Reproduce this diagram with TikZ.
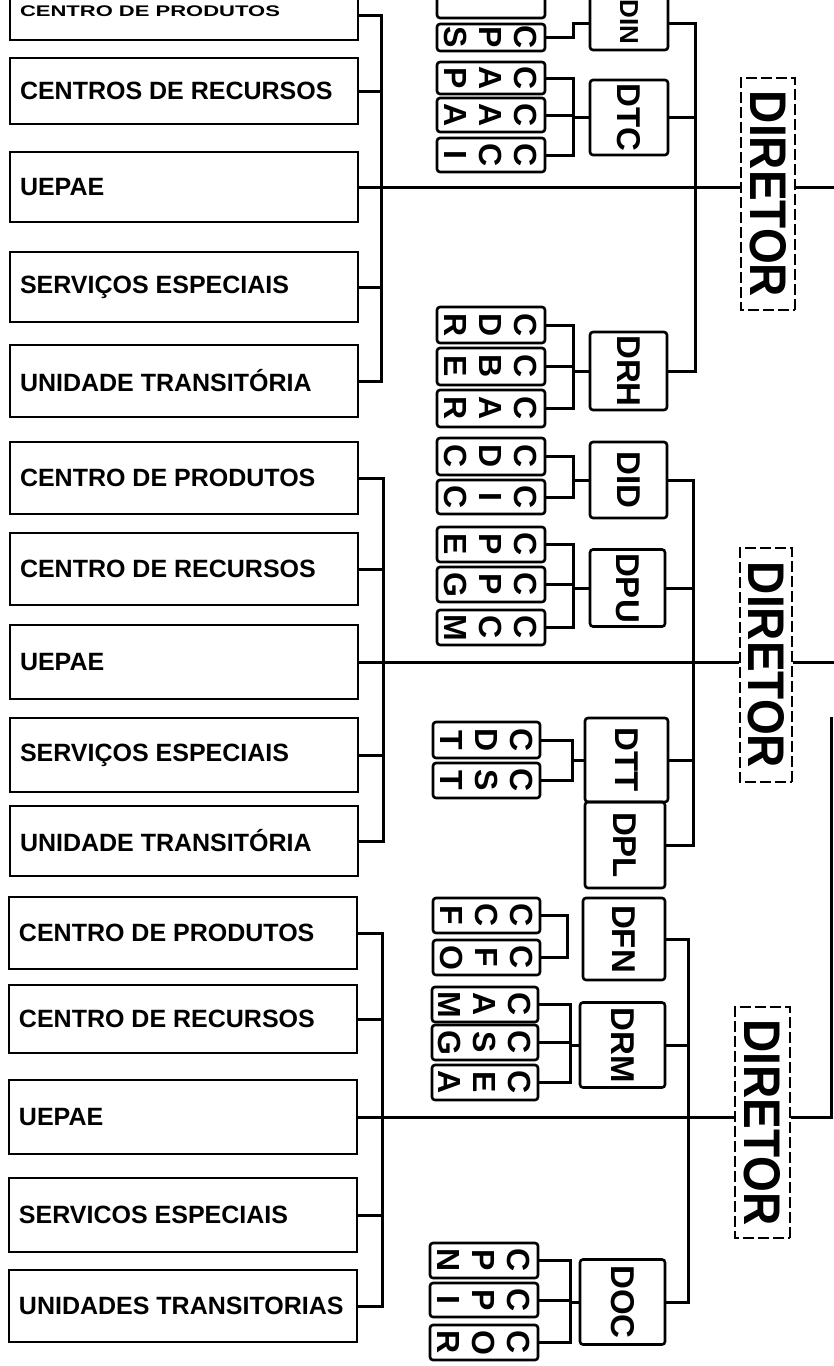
\documentclass[tikz,border=0pt]{standalone}
\usepackage{fontspec}
\setmainfont{Liberation Sans}
\newcommand\ltxt[1]{\makebox[328pt][l]{#1}}
\begin{document}
\begin{tikzpicture}[x=1pt,y=-1pt,
  lbox/.style={draw, line width=2.5pt, minimum width=348pt, inner xsep=10pt, inner ysep=0pt, font=\fontsize{25}{25}\bfseries\selectfont},
  sbox/.style={draw, line width=2.6pt, rounded corners=3pt, rotate=-90, align=center, inner sep=0pt, font=\fontsize{32}{35}\bfseries\selectfont},
  dbox/.style={draw, line width=2.6pt, rounded corners=3pt, rotate=-90, inner sep=0pt, font=\fontsize{33}{33}\bfseries\selectfont},
  dirbox/.style={draw, dash pattern=on 11pt off 4pt, line width=2.4pt, rotate=-90, minimum height=54pt, inner sep=0pt, font=\fontsize{46}{46}\bfseries\selectfont},
  con/.style={line width=3pt},
]
\useasboundingbox (0,0) rectangle (834,1366);
\fill[white] (0,0) rectangle (834,1366);
\clip (0,0) rectangle (834,1366);

% ---------------- left column ----------------
\node[lbox, minimum height=58pt] (l1a) at (184,11) {\ltxt{\fontsize{22}{22}\selectfont\scalebox{1}[0.7]{CENTRO DE PRODUTOS}}};
\node[lbox, minimum height=66pt] (l1b) at (184,91) {\ltxt{CENTROS DE RECURSOS}};
\node[lbox, minimum height=70pt] (l1c) at (184,187) {\ltxt{UEPAE}};
\node[lbox, minimum height=70pt] (l1d) at (184,287) {\ltxt{SERVIÇOS ESPECIAIS}};
\node[lbox, minimum height=72pt] (l1e) at (184,381) {\ltxt{UNIDADE TRANSITÓRIA}};

\node[lbox, minimum height=72pt] (l2a) at (184,478) {\ltxt{CENTRO DE PRODUTOS}};
\node[lbox, minimum height=72pt] (l2b) at (184,569) {\ltxt{CENTRO DE RECURSOS}};
\node[lbox, minimum height=74pt] (l2c) at (184,662) {\ltxt{UEPAE}};
\node[lbox, minimum height=74pt] (l2d) at (184,755) {\ltxt{SERVIÇOS ESPECIAIS}};
\node[lbox, minimum height=70pt] (l2e) at (184,841) {\ltxt{UNIDADE TRANSITÓRIA}};

\node[lbox, minimum height=72pt] (l3a) at (183,933) {\ltxt{CENTRO DE PRODUTOS}};
\node[lbox, minimum height=68pt] (l3b) at (183,1019) {\ltxt{CENTRO DE RECURSOS}};
\node[lbox, minimum height=74pt] (l3c) at (183,1117) {\ltxt{UEPAE}};
\node[lbox, minimum height=74pt] (l3d) at (183,1215) {\ltxt{SERVICOS ESPECIAIS}};
\node[lbox, minimum height=72pt] (l3e) at (183,1306) {\ltxt{UNIDADES TRANSITORIAS}};

% left buses
\coordinate (q1t) at (381,15);  \coordinate (q1b) at (381,381);
\coordinate (q2t) at (383,478); \coordinate (q2b) at (383,841);
\coordinate (q3t) at (382,933); \coordinate (q3b) at (382,1306);
\draw[con] (l1a.east |- q1t) -- (q1t) -- (q1b) -- (l1e.east);
\draw[con] (l1b.east) -- (l1b.east -| q1t);
\draw[con] (l1d.east) -- (l1d.east -| q1t);
\draw[con] (l2a.east) -- (q2t) -- (q2b) -- (l2e.east);
\draw[con] (l2b.east) -- (l2b.east -| q2t);
\draw[con] (l2d.east) -- (l2d.east -| q2t);
\draw[con] (l3a.east) -- (q3t) -- (q3b) -- (l3e.east);
\draw[con] (l3b.east) -- (l3b.east -| q3t);
\draw[con] (l3d.east) -- (l3d.east -| q3t);

% ---------------- DIRETOR boxes ----------------
\node[dirbox, minimum width=232pt] (d1) at (768,194) {\scalebox{1}[1.12]{DIRETOR}};
\node[dirbox, minimum width=234pt, minimum height=52pt] (d2) at (766,665) {\scalebox{1}[1.12]{DIRETOR}};
\node[dirbox, minimum width=231pt, minimum height=55pt] (d3) at (762.5,1122.5) {\scalebox{1}[1.12]{DIRETOR}};

\coordinate (e1) at (840,187);
\coordinate (e2) at (840,662);
\coordinate (rt3) at (831,717);
\draw[con] (l1c.east) -- (l1c.east -| d1.south);
\draw[con] (d1.north |- l1c.east) -- (e1);
\draw[con] (l2c.east) -- (l2c.east -| d2.south);
\draw[con] (d2.north |- l2c.east) -- (e2);
\draw[con] (l3c.east) -- (l3c.east -| d3.south);
\draw[con] (d3.north |- l3c.east) -| (rt3);

% ---------------- section 1 middle ----------------
\draw[line width=2.6pt, rounded corners=3pt] (437,-30) rectangle (545,18);
\node[sbox, minimum width=27pt, minimum height=108pt] (s1a) at (491,37.5) {C\\P\\S};
\node[dbox, minimum width=56pt, minimum height=78pt, font=\fontsize{26}{26}\bfseries\selectfont] (din) at (629,22) {DIN};
\coordinate (b1) at (573,23);
\draw[con] (s1a.north) -| (b1) -- (b1 -| din.south);

\node[sbox, minimum width=32pt, minimum height=108pt] (s1b) at (491,78) {C\\A\\P};
\node[sbox, minimum width=34pt, minimum height=108pt] (s1c) at (491,115) {C\\A\\A};
\node[sbox, minimum width=34pt, minimum height=108pt] (s1d) at (491,155) {C\\C\\I};
\node[dbox, minimum width=75pt, minimum height=78pt] (dtc) at (629,117.5) {DTC};
\coordinate (b2) at (573,117.5);
\draw[con] (s1b.north) -| (b2) -- (dtc.south);
\draw[con] (s1d.north) -| (b2);
\draw[con] (s1c.north) -- (s1c.north -| b2);

\node[sbox, minimum width=36pt, minimum height=108pt] (s1e) at (491,325) {C\\D\\R};
\node[sbox, minimum width=37pt, minimum height=108pt] (s1f) at (491,366.5) {C\\B\\E};
\node[sbox, minimum width=37pt, minimum height=108pt] (s1g) at (491,408.5) {C\\A\\R};
\node[dbox, minimum width=78pt, minimum height=77pt] (drh) at (628.5,371) {DRH};
\coordinate (b3) at (573,371);
\draw[con] (s1e.north) -| (b3) -- (drh.south);
\draw[con] (s1g.north) -| (b3);
\draw[con] (s1f.north) -- (s1f.north -| b3);

\coordinate (r1t) at (695,23);
\coordinate (r1b) at (695,371);
\draw[con] (din.north |- r1t) -- (r1t) -- (r1b) -- (drh.north);
\draw[con] (dtc.north) -- (dtc.north -| r1t);

% ---------------- section 2 middle ----------------
\node[sbox, minimum width=37pt, minimum height=108pt] (s2a) at (491,456.5) {C\\D\\C};
\node[sbox, minimum width=34pt, minimum height=108pt] (s2b) at (491,497) {C\\I\\C};
\node[dbox, minimum width=76pt, minimum height=77pt] (did) at (628.5,480) {DID};
\coordinate (b4) at (573,480);
\draw[con] (s2a.north) -| (b4) -- (did.south);
\draw[con] (s2b.north) -| (b4);

\node[sbox, minimum width=35pt, minimum height=108pt] (s2c) at (491,544.5) {C\\P\\E};
\node[sbox, minimum width=35pt, minimum height=108pt] (s2d) at (491,584.5) {C\\P\\G};
\node[sbox, minimum width=35pt, minimum height=108pt] (s2e) at (491,627.5) {C\\C\\M};
\node[dbox, minimum width=77pt, minimum height=75pt] (dpu) at (627.5,588) {DPU};
\coordinate (b5) at (573,588);
\draw[con] (s2c.north) -| (b5) -- (dpu.south);
\draw[con] (s2e.north) -| (b5);
\draw[con] (s2d.north) -- (s2d.north -| b5);

\node[sbox, minimum width=36pt, minimum height=107pt] (s2f) at (486.5,740) {C\\D\\T};
\node[sbox, minimum width=35pt, minimum height=107pt] (s2g) at (486.5,780.5) {C\\S\\T};
\node[dbox, minimum width=84pt, minimum height=83pt] (dtt) at (626.5,760) {DTT};
\coordinate (b6) at (572,760);
\draw[con] (s2f.north) -| (b6) -- (dtt.south);
\draw[con] (s2g.north) -| (b6);

\node[dbox, minimum width=86pt, minimum height=80pt] (dpl) at (625,845) {DPL};

\coordinate (r2t) at (693,480);
\coordinate (r2b) at (693,845);
\draw[con] (did.north) -- (r2t) -- (r2b) -- (dpl.north);
\draw[con] (dpu.north) -- (dpu.north -| r2t);
\draw[con] (dtt.north) -- (dtt.north -| r2t);

% ---------------- section 3 middle ----------------
\node[sbox, minimum width=35pt, minimum height=107pt] (s3a) at (486.5,915.5) {C\\C\\F};
\node[sbox, minimum width=35pt, minimum height=107pt] (s3b) at (486.5,957.5) {C\\F\\O};
\coordinate (b7) at (567,936);
\draw[con] (s3a.north) -| (b7) |- (s3b.north);
\node[dbox, minimum width=82pt, minimum height=82pt] (dfn) at (624,939) {DFN};

\node[sbox, minimum width=35pt, minimum height=106pt] (s3c) at (485,1004.5) {C\\A\\M};
\node[sbox, minimum width=35pt, minimum height=106pt] (s3d) at (485,1042.5) {C\\S\\G};
\node[sbox, minimum width=35pt, minimum height=106pt] (s3e) at (485,1082.5) {C\\E\\A};
\node[dbox, minimum width=85pt, minimum height=85pt] (drm) at (622.5,1045) {DRM};
\coordinate (b8) at (570,1045);
\draw[con] (s3c.north) -| (b8) -- (drm.south);
\draw[con] (s3e.north) -| (b8);
\draw[con] (s3d.north) -- (s3d.north -| b8);

\node[sbox, minimum width=35pt, minimum height=108pt] (s3f) at (484,1260.5) {C\\P\\N};
\node[sbox, minimum width=34pt, minimum height=108pt] (s3g) at (484,1300) {C\\P\\I};
\node[sbox, minimum width=35pt, minimum height=108pt] (s3h) at (484,1342.5) {C\\O\\R};
\node[dbox, minimum width=85pt, minimum height=85pt] (doc) at (622.5,1302) {DOC};
\coordinate (b9) at (570,1302);
\draw[con] (s3f.north) -| (b9) -- (doc.south);
\draw[con] (s3h.north) -| (b9);
\draw[con] (s3g.north) -- (s3g.north -| b9);

\coordinate (r3t) at (688,939);
\coordinate (r3b) at (688,1302);
\draw[con] (dfn.north) -- (r3t) -- (r3b) -- (doc.north);
\draw[con] (drm.north) -- (drm.north -| r3t);
\end{tikzpicture}
\end{document}
